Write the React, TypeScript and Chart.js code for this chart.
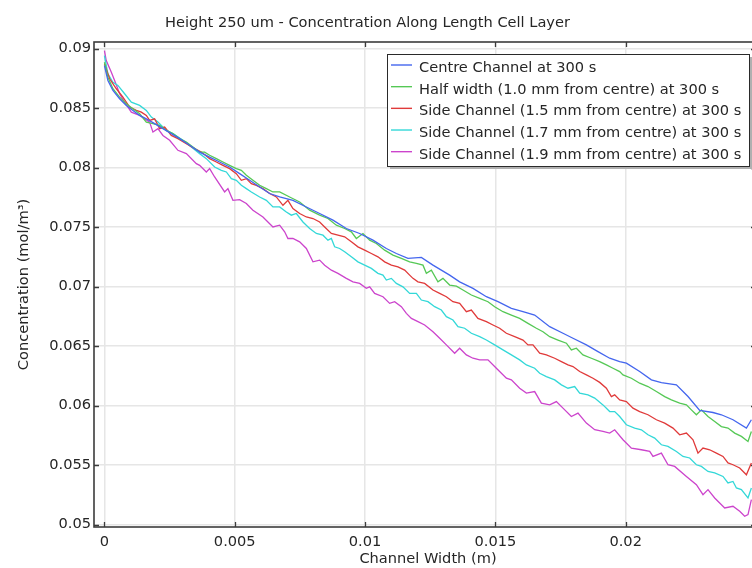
import React, { useEffect, useRef } from "react";
import { Chart, registerables } from "chart.js";

Chart.register(...registerables);

const TITLE = "Height 250 um - Concentration Along Length Cell Layer";
const X_TITLE = "Channel Width (m)";
const Y_TITLE = "Concentration (mol/m³)";
const X_TICKS = [0, 0.005, 0.01, 0.015, 0.02];
const Y_TICKS = [0.05, 0.055, 0.06, 0.065, 0.07, 0.075, 0.08, 0.085, 0.09];
const X_RANGE = [-0.0004, 0.025];
const Y_RANGE = [0.0498, 0.09055];

const LABELS = [
  "Centre Channel at 300 s",
  "Half width (1.0 mm from centre) at 300 s",
  "Side Channel (1.5 mm from centre) at 300 s",
  "Side Channel (1.7 mm from centre) at 300 s",
  "Side Channel (1.9 mm from centre) at 300 s",
];
const COLORS = ["#4466ee", "#55c855", "#e03a3a", "#33d8d8", "#cc44cc"];

const centre: number[][] = [
  [0, 0.08857], [0.000134, 0.08732], [0.000326, 0.08648], [0.000583, 0.08578], [0.00084, 0.08522],
  [0.001094, 0.0848], [0.001351, 0.08438], [0.001608, 0.0841], [0.001926, 0.08369], [0.002245, 0.08327],
  [0.002567, 0.08285], [0.002886, 0.08243], [0.003269, 0.08187], [0.003653, 0.0813], [0.004037, 0.08088],
  [0.004421, 0.08047], [0.004804, 0.08005], [0.005188, 0.07949], [0.005572, 0.07893], [0.005956, 0.07837],
  [0.006339, 0.07782], [0.006723, 0.07753], [0.007233, 0.07725], [0.007748, 0.07669], [0.008258, 0.07614],
  [0.008768, 0.07558], [0.009282, 0.07488], [0.009793, 0.07446], [0.010303, 0.0739], [0.010817, 0.0732],
  [0.011201, 0.07278], [0.011646, 0.07237], [0.01216, 0.07245], [0.012606, 0.0718], [0.013246, 0.07096],
  [0.01363, 0.0704], [0.014141, 0.06985], [0.014655, 0.06915], [0.0151, 0.06873], [0.015614, 0.06817],
  [0.016059, 0.06789], [0.016508, 0.06761], [0.017084, 0.06663], [0.017594, 0.06608], [0.017978, 0.06566],
  [0.018492, 0.0651], [0.018937, 0.06453], [0.019386, 0.06398], [0.01977, 0.0637], [0.020027, 0.06356],
  [0.020537, 0.06286], [0.020986, 0.06216], [0.02137, 0.06193], [0.021946, 0.06174], [0.022391, 0.06076],
  [0.02284, 0.05959], [0.02335, 0.05942], [0.023672, 0.05923], [0.024117, 0.05881], [0.024632, 0.05811],
  [0.024823, 0.05881],
];

const halfWidth: number[][] = [
  [0, 0.08885], [0.000134, 0.08759], [0.000326, 0.08662], [0.000583, 0.08592], [0.00084, 0.08536],
  [0.001094, 0.08494], [0.001351, 0.08452], [0.001608, 0.08382], [0.001861, 0.08369], [0.002118, 0.08354],
  [0.002375, 0.08312], [0.002629, 0.08285], [0.002886, 0.08243], [0.003143, 0.08214], [0.003396, 0.08172],
  [0.003653, 0.0813], [0.003845, 0.0813], [0.004037, 0.08103], [0.004294, 0.08075], [0.004547, 0.08047],
  [0.004804, 0.08019], [0.005061, 0.07991], [0.005253, 0.07977], [0.005445, 0.07935], [0.005698, 0.07893],
  [0.005956, 0.07851], [0.006213, 0.07823], [0.006466, 0.07795], [0.006723, 0.07795], [0.007107, 0.07753],
  [0.00749, 0.07711], [0.007874, 0.07642], [0.008258, 0.076], [0.008576, 0.07572], [0.008899, 0.07516],
  [0.009217, 0.07488], [0.009474, 0.0746], [0.009666, 0.07404], [0.009919, 0.07446], [0.010177, 0.0739],
  [0.010434, 0.07362], [0.010752, 0.07306], [0.011071, 0.07264], [0.011393, 0.07237], [0.011711, 0.07208],
  [0.011969, 0.07195], [0.012222, 0.0718], [0.012352, 0.07111], [0.012544, 0.07138], [0.012797, 0.0704],
  [0.012989, 0.07069], [0.013246, 0.07013], [0.013504, 0.07004], [0.013757, 0.06971], [0.014079, 0.06929],
  [0.014398, 0.06901], [0.014716, 0.06873], [0.014973, 0.06831], [0.015292, 0.06789], [0.015614, 0.06761],
  [0.015932, 0.06733], [0.016251, 0.06691], [0.016573, 0.0665], [0.016827, 0.06621], [0.017084, 0.06579],
  [0.017402, 0.06551], [0.017725, 0.06524], [0.017916, 0.06468], [0.018108, 0.06482], [0.018361, 0.06426],
  [0.018684, 0.06398], [0.019002, 0.0637], [0.019259, 0.06342], [0.019513, 0.06314], [0.01977, 0.06286],
  [0.019897, 0.06258], [0.020219, 0.0623], [0.020537, 0.06188], [0.020856, 0.0616], [0.021178, 0.06118],
  [0.021497, 0.06076], [0.021754, 0.06048], [0.022072, 0.0602], [0.02233, 0.06006], [0.022521, 0.05964],
  [0.022713, 0.05923], [0.022905, 0.05964], [0.023158, 0.05908], [0.023415, 0.05866], [0.023672, 0.05824],
  [0.023925, 0.05811], [0.024182, 0.05769], [0.02444, 0.05741], [0.024693, 0.05699], [0.024823, 0.05783],
];

const side15: number[][] = [
  [0, 0.08872], [0.0002, 0.08746], [0.000457, 0.08662], [0.00071, 0.08592], [0.000967, 0.08508],
  [0.001224, 0.0848], [0.001416, 0.08466], [0.001608, 0.08438], [0.001734, 0.08396], [0.001926, 0.0841],
  [0.002118, 0.08327], [0.00231, 0.0834], [0.002567, 0.0827], [0.00282, 0.08243], [0.003143, 0.08201],
  [0.003461, 0.08159], [0.003718, 0.0813], [0.004037, 0.08075], [0.004294, 0.08047], [0.004547, 0.08019],
  [0.004804, 0.07991], [0.005061, 0.07949], [0.005253, 0.07893], [0.005445, 0.07907], [0.005637, 0.07865],
  [0.005829, 0.07851], [0.006082, 0.07823], [0.006339, 0.07782], [0.006596, 0.07753], [0.00685, 0.07683],
  [0.007041, 0.07725], [0.007233, 0.07656], [0.00749, 0.07614], [0.007748, 0.07585], [0.008001, 0.07572],
  [0.008258, 0.07543], [0.00845, 0.07501], [0.008707, 0.07446], [0.00896, 0.07432], [0.009217, 0.07418],
  [0.009474, 0.07376], [0.009727, 0.07334], [0.009985, 0.07306], [0.010242, 0.07278], [0.010495, 0.0725],
  [0.010752, 0.07208], [0.011009, 0.0718], [0.011262, 0.07166], [0.01152, 0.07138], [0.011711, 0.07096],
  [0.011838, 0.07069], [0.01203, 0.0704], [0.012287, 0.07027], [0.012606, 0.06971], [0.012863, 0.06943],
  [0.01312, 0.06915], [0.013373, 0.06873], [0.01363, 0.06859], [0.013887, 0.06789], [0.014079, 0.06803],
  [0.014332, 0.06733], [0.014655, 0.06705], [0.014908, 0.06677], [0.015165, 0.0665], [0.015422, 0.06608],
  [0.015741, 0.06579], [0.016059, 0.06551], [0.016251, 0.0651], [0.016443, 0.0651], [0.0167, 0.0644],
  [0.016957, 0.06426], [0.017276, 0.06398], [0.017533, 0.0637], [0.017786, 0.06342], [0.017978, 0.06328],
  [0.018235, 0.06286], [0.018492, 0.06258], [0.018745, 0.0623], [0.019002, 0.06195], [0.019259, 0.06146],
  [0.019451, 0.06076], [0.019578, 0.0609], [0.01977, 0.06048], [0.020027, 0.06034], [0.02028, 0.05979],
  [0.020537, 0.0595], [0.020856, 0.05923], [0.021178, 0.05881], [0.021497, 0.05853], [0.021815, 0.05811],
  [0.022072, 0.05755], [0.02233, 0.05769], [0.022583, 0.05713], [0.022774, 0.05601], [0.022966, 0.05643],
  [0.023223, 0.05629], [0.02348, 0.05601], [0.023734, 0.05573], [0.023925, 0.05518], [0.024117, 0.05503],
  [0.024375, 0.05476], [0.024632, 0.05419], [0.024823, 0.05518],
];

const side17: number[][] = [
  [0, 0.08941], [0.000134, 0.08788], [0.000326, 0.08717], [0.000518, 0.0869], [0.000775, 0.0862],
  [0.001032, 0.0855], [0.001351, 0.08522], [0.001608, 0.0848], [0.0018, 0.08424], [0.002053, 0.08382],
  [0.002375, 0.08312], [0.002629, 0.08285], [0.003012, 0.08229], [0.003335, 0.08172], [0.003653, 0.08117],
  [0.00391, 0.08075], [0.004229, 0.08005], [0.004486, 0.07977], [0.004678, 0.07963], [0.00487, 0.07907],
  [0.005061, 0.07893], [0.005253, 0.07851], [0.005445, 0.07823], [0.005637, 0.07795], [0.005956, 0.07753],
  [0.006213, 0.07725], [0.006466, 0.07669], [0.006723, 0.07669], [0.00698, 0.07627], [0.007172, 0.076],
  [0.007364, 0.07614], [0.007617, 0.07543], [0.007874, 0.07488], [0.008131, 0.07446], [0.008385, 0.07432],
  [0.008576, 0.0739], [0.008707, 0.07404], [0.008833, 0.07334], [0.009025, 0.0732], [0.009217, 0.07292],
  [0.009474, 0.0725], [0.009727, 0.07208], [0.009985, 0.0718], [0.010242, 0.07153], [0.010495, 0.07111],
  [0.010687, 0.07096], [0.010817, 0.07055], [0.011009, 0.07069], [0.011201, 0.07027], [0.011454, 0.06998],
  [0.011711, 0.06943], [0.011969, 0.06943], [0.01216, 0.06887], [0.012414, 0.06873], [0.012671, 0.06831],
  [0.012928, 0.06803], [0.01312, 0.06747], [0.013373, 0.06719], [0.013565, 0.06663], [0.013822, 0.0665],
  [0.014079, 0.06608], [0.014398, 0.06579], [0.014655, 0.06551], [0.014973, 0.0651], [0.015292, 0.06468],
  [0.015614, 0.06426], [0.015932, 0.06384], [0.01619, 0.06342], [0.016508, 0.06314], [0.0167, 0.06272],
  [0.016957, 0.06244], [0.017276, 0.06216], [0.017533, 0.06174], [0.017786, 0.06146], [0.018043, 0.0616],
  [0.018235, 0.06105], [0.018553, 0.0609], [0.018811, 0.06063], [0.019129, 0.06006], [0.019386, 0.0595],
  [0.019578, 0.0595], [0.01977, 0.05908], [0.020027, 0.05839], [0.020345, 0.05811], [0.020602, 0.05797],
  [0.020856, 0.05755], [0.021113, 0.05727], [0.02137, 0.05671], [0.021623, 0.05657], [0.021946, 0.05615],
  [0.022199, 0.05573], [0.022456, 0.0556], [0.022713, 0.05503], [0.022905, 0.05489], [0.023158, 0.05447],
  [0.023415, 0.05434], [0.023734, 0.05405], [0.023925, 0.0535], [0.024117, 0.05363], [0.024248, 0.05308],
  [0.02444, 0.05294], [0.024693, 0.05224], [0.024823, 0.05308],
];

const side19: number[][] = [
  [0, 0.08983], [0.00007, 0.08899], [0.000265, 0.08801], [0.000391, 0.08732], [0.000583, 0.0862],
  [0.000775, 0.0855], [0.001032, 0.08466], [0.001351, 0.08438], [0.001734, 0.08382], [0.001861, 0.08298],
  [0.002053, 0.08327], [0.002245, 0.0827], [0.002502, 0.08229], [0.00282, 0.08145], [0.003143, 0.08117],
  [0.003527, 0.08033], [0.003653, 0.08019], [0.00391, 0.07963], [0.004037, 0.07991], [0.004229, 0.07921],
  [0.004612, 0.07795], [0.004739, 0.07823], [0.004931, 0.07725], [0.005188, 0.07731], [0.005445, 0.07698],
  [0.005698, 0.07642], [0.006082, 0.07585], [0.006466, 0.07501], [0.006723, 0.07516], [0.006915, 0.0746],
  [0.007041, 0.07404], [0.007233, 0.07404], [0.00749, 0.07376], [0.007748, 0.0732], [0.008001, 0.07208],
  [0.008258, 0.07222], [0.00845, 0.0718], [0.008707, 0.07138], [0.00896, 0.07111], [0.009282, 0.07069],
  [0.009536, 0.0704], [0.009793, 0.07027], [0.01005, 0.06985], [0.010177, 0.06998], [0.010368, 0.06943],
  [0.010687, 0.06915], [0.010944, 0.06859], [0.011136, 0.06873], [0.011393, 0.06831], [0.011585, 0.06775],
  [0.011777, 0.06733], [0.01203, 0.06705], [0.012287, 0.06677], [0.012606, 0.06621], [0.012863, 0.06566],
  [0.01312, 0.0651], [0.013438, 0.0644], [0.01363, 0.06482], [0.013887, 0.06426], [0.014141, 0.06398],
  [0.014398, 0.06384], [0.014716, 0.06384], [0.015038, 0.06314], [0.015422, 0.0623], [0.015614, 0.06216],
  [0.015932, 0.06146], [0.01619, 0.06105], [0.016508, 0.06118], [0.016765, 0.06021], [0.017084, 0.06006],
  [0.017341, 0.06034], [0.017594, 0.05979], [0.017916, 0.05908], [0.01817, 0.05937], [0.018492, 0.05853],
  [0.018811, 0.05797], [0.019129, 0.05783], [0.019386, 0.05769], [0.019578, 0.05797], [0.019897, 0.05713],
  [0.020219, 0.05643], [0.020602, 0.05629], [0.020921, 0.05615], [0.021048, 0.05573], [0.02137, 0.05601],
  [0.021623, 0.05503], [0.02188, 0.05489], [0.02233, 0.05405], [0.022713, 0.05336], [0.022966, 0.05252],
  [0.023158, 0.05294], [0.023415, 0.05224], [0.023799, 0.0514], [0.024117, 0.05154], [0.024375, 0.05112],
  [0.024566, 0.0507], [0.024693, 0.05084], [0.024823, 0.0521],
];

const SERIES = [centre, halfWidth, side15, side17, side19];

const FONT = "DejaVu Sans";
const FONT_SIZE = 14.6;
const TEXT_COLOR = "#262626";

const decorPlugin = {
  id: "decor",
  afterDraw(chart: any) {
    const { ctx, chartArea: a, scales } = chart;
    ctx.save();
    // frame
    ctx.strokeStyle = "#3c3c3c";
    ctx.lineWidth = 1.6;
    ctx.strokeRect(a.left, a.top, a.right - a.left, a.bottom - a.top);
    // inward ticks
    ctx.lineWidth = 1.3;
    ctx.strokeStyle = "#3c3c3c";
    ctx.beginPath();
    X_TICKS.forEach((v) => {
      const x = Math.round(scales.x.getPixelForValue(v)) + 0.5;
      ctx.moveTo(x, a.bottom);
      ctx.lineTo(x, a.bottom - 5);
      ctx.moveTo(x, a.top);
      ctx.lineTo(x, a.top + 5);
    });
    Y_TICKS.forEach((v) => {
      const y = Math.round(scales.y.getPixelForValue(v)) + 0.5;
      ctx.moveTo(a.left, y);
      ctx.lineTo(a.left + 5, y);
      ctx.moveTo(a.right, y);
      ctx.lineTo(a.right - 5, y);
    });
    ctx.stroke();

    // title
    ctx.fillStyle = TEXT_COLOR;
    ctx.font = `${FONT_SIZE}px "${FONT}"`;
    ctx.textAlign = "center";
    ctx.textBaseline = "alphabetic";
    ctx.fillText(TITLE, 367.5, 26.5);
    // x title
    ctx.fillText(X_TITLE, (a.left + a.right) / 2 + 3, 562.5);
    // y title
    ctx.save();
    ctx.translate(27.5, (a.top + a.bottom) / 2);
    ctx.rotate(-Math.PI / 2);
    ctx.fillText(Y_TITLE, 0, 0);
    ctx.restore();

    // legend
    const bx = 387.5, by = 54.5, bw = 362, bh = 112;
    ctx.fillStyle = "#b0b0b0";
    ctx.fillRect(bx + 2.5, by + 2.5, bw, bh);
    ctx.fillStyle = "#ffffff";
    ctx.fillRect(bx, by, bw, bh);
    ctx.strokeStyle = "#2a2a2a";
    ctx.lineWidth = 1;
    ctx.strokeRect(bx, by, bw, bh);
    ctx.textAlign = "left";
    LABELS.forEach((lab, i) => {
      const y = 65 + i * 21.67;
      ctx.strokeStyle = COLORS[i];
      ctx.lineWidth = 1.4;
      ctx.beginPath();
      ctx.moveTo(391, y);
      ctx.lineTo(412, y);
      ctx.stroke();
      ctx.fillStyle = TEXT_COLOR;
      ctx.fillText(lab, 419, y + 7);
    });
    ctx.restore();
  },
};

export default function App() {
  const ref = useRef<HTMLCanvasElement | null>(null);
  useEffect(() => {
    if (!ref.current) return;
    const chart = new Chart(ref.current, {
      type: "line",
      data: {
        datasets: SERIES.map((s, i) => ({
          label: LABELS[i],
          data: s.map((p) => ({ x: p[0], y: p[1] })),
          borderColor: COLORS[i],
          backgroundColor: COLORS[i],
          borderWidth: 1.3,
          pointRadius: 0,
          tension: 0,
          fill: false,
        })),
      },
      options: {
        responsive: false,
        animation: false,
        devicePixelRatio: 1,
        layout: { padding: { left: 0, top: 42, right: 14, bottom: 0 } },
        plugins: {
          legend: { display: false },
          title: { display: false },
          tooltip: { enabled: false },
        },
        scales: {
          x: {
            type: "linear",
            min: X_RANGE[0],
            max: X_RANGE[1],
            afterBuildTicks: (s: any) => {
              s.ticks = X_TICKS.map((v) => ({ value: v }));
            },
            afterFit: (s: any) => {
              s.height = 41;
            },
            ticks: {
              callback: (v: any) => String(v),
              font: { family: FONT, size: FONT_SIZE },
              color: TEXT_COLOR,
              padding: 6,
              maxRotation: 0,
              autoSkip: false,
            },
            grid: { color: "#e6e6e6", lineWidth: 1.5, drawTicks: false },
            border: { display: false },
          },
          y: {
            type: "linear",
            min: Y_RANGE[0],
            max: Y_RANGE[1],
            afterBuildTicks: (s: any) => {
              s.ticks = Y_TICKS.map((v) => ({ value: v }));
            },
            afterFit: (s: any) => {
              s.width = 94;
            },
            ticks: {
              callback: (v: any) => String(v),
              font: { family: FONT, size: FONT_SIZE },
              color: TEXT_COLOR,
              padding: 3,
              autoSkip: false,
            },
            grid: { color: "#e6e6e6", lineWidth: 1.5, drawTicks: false },
            border: { display: false },
          },
        },
      },
      plugins: [decorPlugin],
    });
    return () => chart.destroy();
  }, []);

  return (
    <div
      style={{
        position: "fixed",
        left: 0,
        top: 0,
        width: 752,
        height: 568,
        overflow: "hidden",
        background: "#ffffff",
      }}
    >
      <canvas ref={ref} width={770} height={568} style={{ display: "block", width: 770, height: 568 }} />
    </div>
  );
}
